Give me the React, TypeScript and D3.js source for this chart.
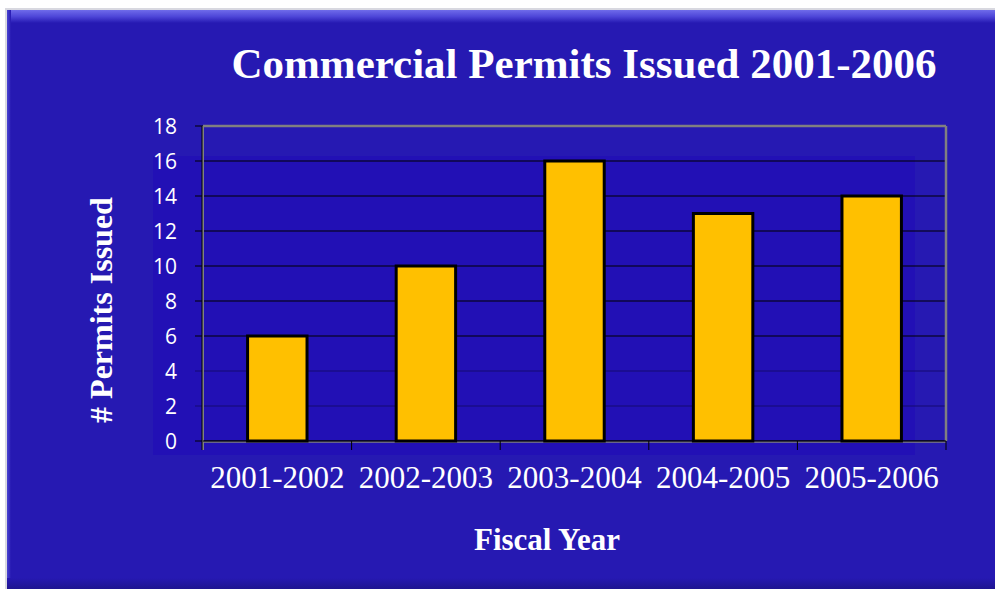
import React from "react";
import * as d3 from "d3";

const categories = ["2001-2002", "2002-2003", "2003-2004", "2004-2005", "2005-2006"];
const permits = [6, 10, 16, 13, 14];
const yTicks = [0, 2, 4, 6, 8, 10, 12, 14, 16, 18];
const title = "Commercial Permits Issued 2001-2006";
const xTitle = "Fiscal Year";
const yTitle = "# Permits Issued";

const W = 995;
const H = 589;
const plot = { left: 203, right: 946, top: 126, bottom: 441 };

export default function App() {
  const x = d3.scaleBand<string>().domain(categories).range([plot.left, plot.right]).paddingInner(0.6).paddingOuter(0.3);
  const xb = d3.scaleBand<string>().domain(categories).range([plot.left, plot.right]);
  const y = d3.scaleLinear().domain([0, 18]).range([plot.bottom, plot.top]);
  const serif = "'Liberation Serif', 'Times New Roman', serif";
  const panel = "#2619B2";
  return (
    <svg width={W} height={H} style={{ position: "absolute", left: 0, top: 0, display: "block" }}>
      <defs>
        <linearGradient id="topBevel" x1="0" y1="0" x2="0" y2="1">
          <stop offset="0" stopColor="#6F6BEA" />
          <stop offset="0.5" stopColor="#4E46D8" />
          <stop offset="1" stopColor={panel} />
        </linearGradient>
        <linearGradient id="leftBevel" x1="0" y1="0" x2="1" y2="0">
          <stop offset="0" stopColor="#4A43D0" />
          <stop offset="1" stopColor={panel} />
        </linearGradient>
        <linearGradient id="botBevel" x1="0" y1="0" x2="0" y2="1">
          <stop offset="0" stopColor={panel} />
          <stop offset="1" stopColor="#1E1490" />
        </linearGradient>
      </defs>
      <rect x={0} y={0} width={W} height={H} fill="#ffffff" />
      <rect x={5} y={8} width={W} height={H} fill="#d8d8e0" />
      <rect x={7} y={10} width={W} height={H} fill={panel} />
      <rect x={7} y={10} width={W} height={13} fill="url(#topBevel)" />
      <rect x={7} y={10} width={4} height={H} fill="url(#leftBevel)" />
      <rect x={7} y={578} width={W} height={11} fill="url(#botBevel)" />
      <rect x={153} y={156} width={762} height={299} fill="#2210B5" />

      {yTicks.map((t) => (
        <g key={t}>
          <line x1={195} x2={plot.right} y1={y(t)} y2={y(t)} stroke={t === 2 || t === 4 ? "#140a70" : "#000"} strokeWidth={1.2} />
          <text x={177} y={y(t)} dy="0.36em" textAnchor="end" fill="#fff" fontFamily="'Open Sans', sans-serif" fontSize={21}>
            {t}
          </text>
        </g>
      ))}
      <line x1={plot.left} x2={plot.right} y1={plot.top} y2={plot.top} stroke="#808080" strokeWidth={2.5} />
      <line x1={plot.right} x2={plot.right} y1={plot.top} y2={plot.bottom} stroke="#808080" strokeWidth={2.5} />
      <line x1={plot.left} x2={plot.left} y1={plot.top} y2={plot.bottom + 9} stroke="#808080" strokeWidth={2} />
      <line x1={plot.left - 1} x2={plot.left - 1} y1={plot.top} y2={plot.bottom + 9} stroke="#000" strokeWidth={1} />
      <line x1={plot.left} x2={plot.right} y1={plot.bottom + 1} y2={plot.bottom + 1} stroke="#808080" strokeWidth={1.5} />
      <line x1={plot.left} x2={plot.right} y1={plot.bottom} y2={plot.bottom} stroke="#000" strokeWidth={1.2} />
      {categories.map((c) => (
        <line key={"t" + c} x1={(xb(c) as number) + xb.bandwidth()} x2={(xb(c) as number) + xb.bandwidth()} y1={plot.bottom} y2={plot.bottom + 9} stroke="#000" strokeWidth={1} />
      ))}

      {categories.map((c, i) => (
        <rect
          key={c}
          x={x(c)}
          y={y(permits[i])}
          width={x.bandwidth()}
          height={y(0) - y(permits[i])}
          fill="#FFC000"
          stroke="#000"
          strokeWidth={3}
        />
      ))}

      {categories.map((c) => (
        <text key={"l" + c} x={(xb(c) as number) + xb.bandwidth() / 2} y={488} textAnchor="middle" fill="#fff" fontFamily={serif} fontSize={31}>
          {c}
        </text>
      ))}

      <text x={584} y={78} textAnchor="middle" fill="#fff" fontFamily={serif} fontWeight="bold" fontSize={43}>
        {title}
      </text>
      <text x={547} y={550} textAnchor="middle" fill="#fff" fontFamily={serif} fontWeight="bold" fontSize={31}>
        {xTitle}
      </text>
      <text transform="translate(112,310) rotate(-90)" textAnchor="middle" fill="#fff" fontFamily={serif} fontWeight="bold" fontSize={32}>
        {yTitle}
      </text>
    </svg>
  );
}
